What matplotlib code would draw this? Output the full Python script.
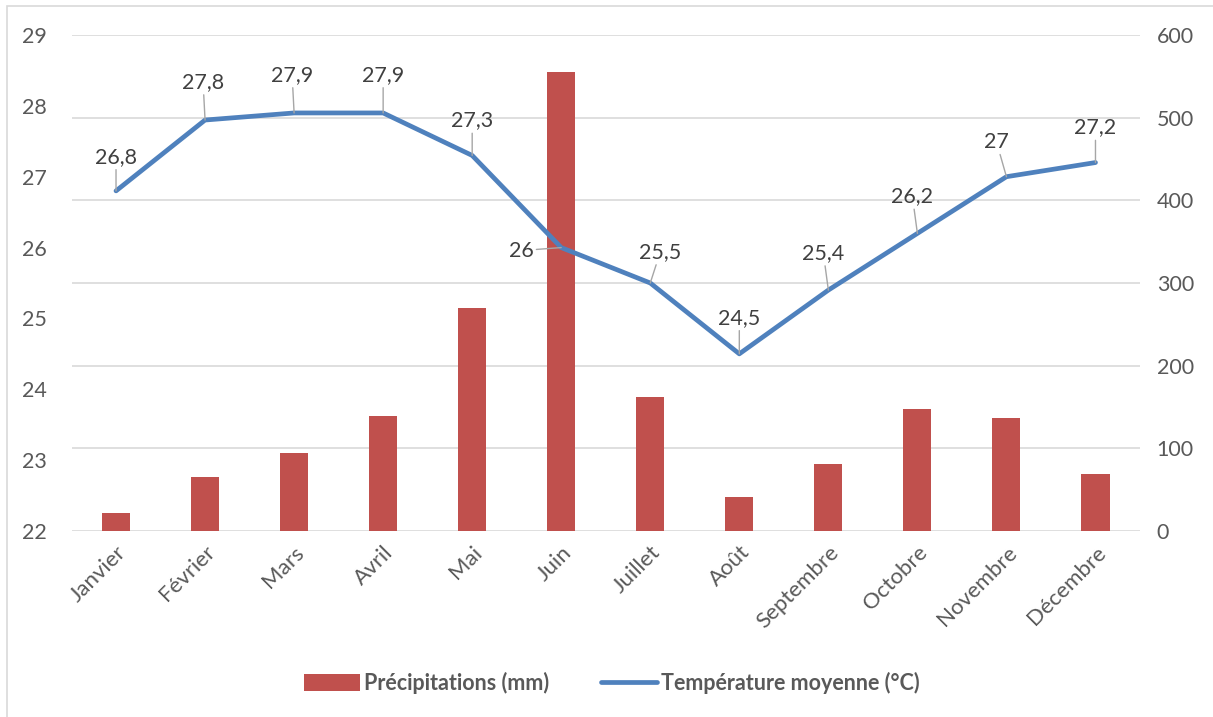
import matplotlib
matplotlib.use('Agg')
import matplotlib.pyplot as plt
from matplotlib.patches import Rectangle
import numpy as np

plt.rcParams['font.family'] = ['Lato', 'DejaVu Sans']

# Données
mois = ['Janvier', 'Février', 'Mars', 'Avril', 'Mai', 'Juin', 'Juillet',
        'Août', 'Septembre', 'Octobre', 'Novembre', 'Décembre']
precipitations = [22, 65, 94, 139, 270, 555, 162, 41, 81, 148, 137, 69]
temperature = [26.8, 27.8, 27.9, 27.9, 27.3, 26.0, 25.5, 24.5, 25.4, 26.2, 27.0, 27.2]

# décalage des étiquettes (pixels) par rapport au point
label_dx = [0, -2, -2, 0, 0, -40, 10, 0, -5, -5, -10, 0]
label_dy = [34, 38, 38, 38, 35, -3, 31, 36, 37, 37, 35, 35]

RED = '#C0504D'
BLUE = '#4F81BD'
GREY_TXT = '#595959'
GRID = '#d9d9d9'

fig = plt.figure(figsize=(12.13, 7.17), dpi=100)
fig.patches.append(Rectangle((7 / 1213, -0.1), 1.2, 1 - 6 / 717 + 0.1,
                             transform=fig.transFigure, fill=False,
                             edgecolor=GRID, linewidth=1.2))

ax = fig.add_axes([71.5 / 1213, 1 - 531 / 717, (1140 - 71.5) / 1213, (531 - 35) / 717])
x = np.arange(len(mois))

# barres (axe de droite)
ax.bar(x, precipitations, width=0.315, color=RED, label='Précipitations (mm)', zorder=2)
ax.set_ylim(0, 600)
ax.set_yticks(range(0, 601, 100))
ax.set_xlim(-0.5, len(mois) - 0.5)
ax.set_xticks(x)
ax.set_xticklabels(mois, rotation=45, ha='right', rotation_mode='anchor')
ax.grid(axis='y', color=GRID, linewidth=1.2, zorder=0)
ax.set_axisbelow(True)
for s in ax.spines.values():
    s.set_visible(False)

# ligne (axe de gauche)
ax2 = ax.twinx()
ax2.plot(x, temperature, color=BLUE, linewidth=3.4, solid_capstyle='round',
         label='Température moyenne (°C)', zorder=3)
ax2.set_ylim(22, 29)
ax2.set_yticks(range(22, 30))
ax2.yaxis.tick_left()
ax.yaxis.tick_right()
ax2.tick_params(axis='y', length=0, labelsize=15.5, colors=GREY_TXT, pad=18)
ax.tick_params(axis='both', length=0, colors=GREY_TXT)
ax.tick_params(axis='y', pad=12, labelsize=15.5)
ax.tick_params(axis='x', pad=8, labelsize=16)
for s in ax2.spines.values():
    s.set_visible(False)

for xi, t, dx, dy in zip(x, temperature, label_dx, label_dy):
    txt = f'{t:g}'.replace('.', ',')
    ax2.annotate(txt, (xi, t), xytext=(dx, dy), textcoords='offset pixels',
                 ha='center', va='center', fontsize=15.5, color='#404040',
                 arrowprops=dict(arrowstyle='-', color='#a6a6a6', lw=1,
                                 shrinkA=0, shrinkB=0))

h1, l1 = ax.get_legend_handles_labels()
h2, l2 = ax2.get_legend_handles_labels()
fig.legend(h1 + h2, l1 + l2, loc='center', bbox_to_anchor=(612 / 1213, 1 - 683 / 717),
           ncol=2, frameon=False, prop={'weight': 'bold', 'size': 15.5},
           labelcolor=GREY_TXT, handlelength=2.6, handleheight=0.8,
           columnspacing=2.4, handletextpad=0.2)

fig.savefig('out.png', dpi=100)
